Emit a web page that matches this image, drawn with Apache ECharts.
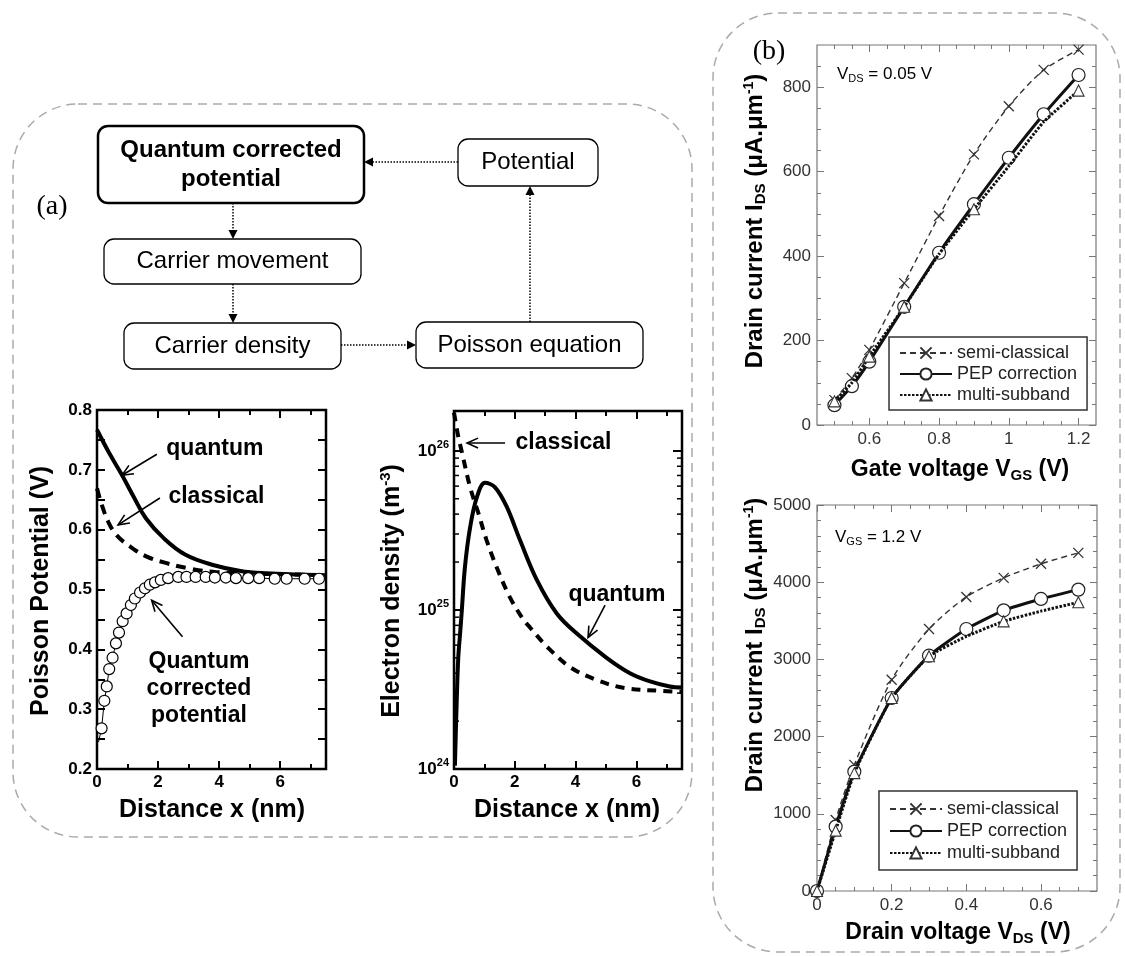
<!DOCTYPE html>
<html>
<head>
<meta charset="utf-8">
<title>Quantum corrected potential</title>
<script src="https://cdn.jsdelivr.net/npm/echarts@6.0.0/dist/echarts.min.js"></script>
<style>
html,body{margin:0;padding:0;background:#fff;}
#chart{width:1125px;height:956px;}
</style>
</head>
<body>
<div id="chart"></div>
<script>
// ================= DATA =================
// (a) Poisson potential (V) vs distance x (nm)
const potQuantumX = [0, 0.4, 0.8, 1.2, 1.6, 2.2, 2.9, 3.8, 4.7, 5.55, 6.6, 7.5];
const potQuantumY = [0.767, 0.728, 0.693, 0.655, 0.619, 0.585, 0.558, 0.541, 0.531, 0.527, 0.525, 0.524];
const potClassicalX = [0, 0.16, 0.37, 0.64, 1.08, 1.63, 2.28, 3.04, 3.91, 5.55, 7.5];
const potClassicalY = [0.669, 0.641, 0.613, 0.591, 0.572, 0.555, 0.544, 0.535, 0.529, 0.526, 0.524];
const potQcpX = [0.15, 0.24, 0.32, 0.40, 0.51, 0.62, 0.72, 0.84, 0.97, 1.11, 1.24, 1.41, 1.57, 1.73, 1.90, 2.09, 2.33, 2.66, 2.93, 3.23, 3.56, 3.86, 4.22, 4.55, 4.95, 5.31, 5.82, 6.21, 6.80, 7.27];
const potQcpY = [0.268, 0.314, 0.338, 0.367, 0.386, 0.410, 0.428, 0.447, 0.460, 0.474, 0.485, 0.495, 0.502, 0.508, 0.512, 0.516, 0.519, 0.521, 0.521, 0.521, 0.521, 0.520, 0.520, 0.519, 0.519, 0.519, 0.518, 0.518, 0.518, 0.518];
const potQcpTail = [0.05, 0.245];

// (a) Electron density (m^-3) vs distance x (nm)
const edQuantumX = [0.03, 0.09, 0.14, 0.2, 0.25, 0.36, 0.53, 0.75, 1.02, 1.35, 1.73, 2.17, 2.72, 3.38, 4.04, 5.02, 5.79, 6.45, 7.1, 7.5];
const edQuantumY = [1.05e24, 2.7e24, 5.0e24, 7.1e24, 9.5e24, 1.86e25, 3.3e25, 5.1e25, 6.3e25, 5.9e25, 4.47e25, 2.75e25, 1.55e25, 9.5e24, 7.1e24, 5.0e24, 4.0e24, 3.55e24, 3.3e24, 3.25e24];
const edClassicalX = [0, 0.14, 0.25, 0.53, 0.8, 1.07, 1.4, 1.84, 2.28, 2.5, 3.05, 3.82, 4.69, 5.57, 6.88, 7.5];
const edClassicalY = [1.74e26, 1.23e26, 1.0e26, 5.9e25, 4.07e25, 2.75e25, 1.86e25, 1.2e25, 8.7e24, 7.76e24, 5.9e24, 4.37e24, 3.63e24, 3.24e24, 3.09e24, 3.05e24];

// (b) top: drain current vs gate voltage, VDS = 0.05 V
const vgs = [0.5, 0.55, 0.6, 0.7, 0.8, 0.9, 1.0, 1.1, 1.2];
const idsSemiVg = [59, 111, 178, 336, 495, 641, 755, 841, 889];
const idsPepVg = [47, 92, 150, 280, 408, 523, 633, 736, 829];
const idsMultiVg = [56, 100, 162, 280, 405, 511, 613, 718, 792];
const multiMarkVg = [1, 0, 1, 1, 0, 1, 0, 0, 1];

// (b) bottom: drain current vs drain voltage, VGS = 1.2 V
const vds = [0, 0.05, 0.1, 0.2, 0.3, 0.4, 0.5, 0.6, 0.7];
const idsSemiVd = [0, 920, 1634, 2737, 3394, 3809, 4056, 4238, 4380];
const idsPepVd = [0, 834, 1547, 2500, 3048, 3394, 3636, 3783, 3904];
const idsMultiVd = [0, 782, 1527, 2500, 3040, 3298, 3493, 3625, 3740];
const multiMarkVd = [1, 1, 1, 1, 1, 0, 1, 0, 1];

// tick labels
const potXLabels = [0, 2, 4, 6];
const potXMinor = [1, 3, 5, 7];
const potYLabels = [0.2, 0.3, 0.4, 0.5, 0.6, 0.7, 0.8];
const potYMinor = [0.25, 0.35, 0.45, 0.55, 0.65, 0.75];
const edXLabels = [0, 2, 4, 6];
const edXMinor = [1, 3, 5, 7];
const edYDecadeMinor = [2, 3, 4, 5, 6, 7, 8, 9];
const edYDecades = [1e24, 1e25];
const vgsLabels = [0.6, 0.8, 1, 1.2];
const idsTopLabels = [0, 200, 400, 600, 800];
const vdsLabels = [0, 0.2, 0.4, 0.6];
const idsBotLabels = [0, 1000, 2000, 3000, 4000, 5000];

const seriesNames = ['semi-classical', 'PEP correction', 'multi-subband'];

// ================= HELPERS =================
const FF = '"Liberation Sans", Arial, Helvetica, sans-serif';
const SERIF = '"Liberation Serif", "Times New Roman", serif';
const zip = (xs, ys) => xs.map((x, i) => [x, ys[i]]);
const zipMark = (xs, ys, m) => xs.map((x, i) => m[i] ? [x, ys[i]] : { value: [x, ys[i]], symbol: 'none' });
function steps(a, b, step, exclude) {
  const out = [];
  for (let i = 0; ; i++) {
    const v = +(a + i * step).toFixed(6);
    if (v > b + 1e-9) break;
    if (!exclude.some(e => Math.abs(e - v) < 1e-9)) out.push(v);
  }
  return out;
}
const edYMinor = [];
edYDecades.forEach(d => edYDecadeMinor.forEach(k => edYMinor.push(k * d)));

const xAxes = [], yAxes = [];
function addAxes(arr, o) {
  const mainIndex = arr.length;
  o.pos.forEach((p, k) => {
    const base = {
      gridIndex: o.grid, type: 'value', min: o.min, max: o.max, position: p,
      axisLine: { show: false, onZero: false }, splitLine: { show: false }, axisPointer: { show: false }
    };
    arr.push(Object.assign({}, base, {
      axisTick: { show: true, inside: true, length: o.majLen, customValues: o.major, lineStyle: { color: o.color, width: o.tw } },
      axisLabel: k === 0 ? Object.assign({ show: true, customValues: o.major }, o.label) : { show: false }
    }));
    arr.push(Object.assign({}, base, {
      axisTick: { show: true, inside: true, length: o.minLen, customValues: o.minor, lineStyle: { color: o.color, width: o.tw } },
      axisLabel: { show: false }
    }));
  });
  return mainIndex;
}

const plain = v => String(+v.toFixed(6));
const labA = { color: '#000', fontSize: 17, fontWeight: 'bold', fontFamily: FF, margin: 5, formatter: plain };
const labB = { color: '#333', fontSize: 17, fontFamily: FF, margin: 6, formatter: plain };

// grid 0: Poisson potential
const potX = addAxes(xAxes, { grid: 0, pos: ['bottom', 'top'], min: 0, max: 7.5, major: potXLabels, minor: potXMinor, majLen: 8, minLen: 5, color: '#000', tw: 2, label: labA });
const potY = addAxes(yAxes, { grid: 0, pos: ['left', 'right'], min: 0.2, max: 0.8, major: potYLabels, minor: potYMinor, majLen: 8, minLen: 8, color: '#000', tw: 2, label: labA });
// grid 1: electron density
const edX = addAxes(xAxes, { grid: 1, pos: ['bottom', 'top'], min: 0, max: 7.5, major: edXLabels, minor: edXMinor, majLen: 8, minLen: 5, color: '#000', tw: 2, label: labA });
const edY = yAxes.length;
['left', 'right'].forEach((p, k) => {
  yAxes.push({
    gridIndex: 1, type: 'log', logBase: 10, min: 1e24, max: 1.78e26, position: p,
    axisLine: { show: false, onZero: false }, splitLine: { show: false }, minorTick: { show: false },
    axisTick: { show: true, inside: true, length: 9, lineStyle: { color: '#000', width: 2 } },
    axisLabel: k === 0 ? {
      show: true, margin: 5,
      formatter: v => { const e = Math.log10(v); const r = Math.round(e); return Math.abs(e - r) > 1e-4 ? '' : '{b|10}{s|' + r + '}'; },
      rich: {
        b: { fontSize: 17, fontWeight: 'bold', fontFamily: FF, color: '#000' },
        s: { fontSize: 11, fontWeight: 'bold', fontFamily: FF, color: '#000', padding: [0, 0, 12, 0] }
      }
    } : { show: false }
  });
});
// grid 2: (b) top
const bTX = addAxes(xAxes, { grid: 2, pos: ['bottom', 'top'], min: 0.45, max: 1.25, major: vgsLabels, minor: steps(0.5, 1.2, 0.05, vgsLabels), majLen: 7, minLen: 4, color: '#777', tw: 1, label: labB });
const bTY = addAxes(yAxes, { grid: 2, pos: ['left', 'right'], min: 0, max: 900, major: idsTopLabels, minor: steps(50, 850, 50, idsTopLabels), majLen: 7, minLen: 4, color: '#777', tw: 1, label: labB });
// grid 3: (b) bottom
const bBX = addAxes(xAxes, { grid: 3, pos: ['bottom', 'top'], min: 0, max: 0.75, major: vdsLabels, minor: steps(0.05, 0.7, 0.05, vdsLabels), majLen: 7, minLen: 4, color: '#777', tw: 1, label: labB });
const bBY = addAxes(yAxes, { grid: 3, pos: ['left', 'right'], min: 0, max: 5000, major: idsBotLabels, minor: steps(200, 4800, 200, idsBotLabels), majLen: 7, minLen: 4, color: '#777', tw: 1, label: labB });

const CROSS = 'path://M0,0L10,10M10,0L0,10';
function bSeries(xi, yi, x, semi, pep, multi, mark) {
  return [
    { name: seriesNames[0], type: 'line', xAxisIndex: xi, yAxisIndex: yi, data: zip(x, semi), smooth: 0.25,
      symbol: CROSS, symbolSize: 10, showAllSymbol: true,
      lineStyle: { color: '#333', width: 1.4, type: [6, 4] },
      itemStyle: { color: '#333', borderColor: '#333', borderWidth: 1.3 }, z: 3 },
    { name: seriesNames[1], type: 'line', xAxisIndex: xi, yAxisIndex: yi, data: zip(x, pep), smooth: 0.15,
      symbol: 'circle', symbolSize: 13, showAllSymbol: true,
      lineStyle: { color: '#111', width: 3 },
      itemStyle: { color: '#fff', borderColor: '#222', borderWidth: 1.2 }, z: 4 },
    { name: seriesNames[2], type: 'line', xAxisIndex: xi, yAxisIndex: yi, data: zipMark(x, multi, mark), smooth: 0.15,
      symbol: 'triangle', symbolSize: 11, showAllSymbol: true,
      lineStyle: { color: '#111', width: 3, type: [2.5, 1.5] },
      itemStyle: { color: '#fff', borderColor: '#333', borderWidth: 1.1 }, z: 5 }
  ];
}

const series = [
  { name: 'pot-classical', type: 'line', xAxisIndex: potX, yAxisIndex: potY, data: zip(potClassicalX, potClassicalY),
    smooth: 0.4, symbol: 'none', lineStyle: { color: '#000', width: 4, type: [10, 7] }, z: 2 },
  { name: 'pot-quantum', type: 'line', xAxisIndex: potX, yAxisIndex: potY, data: zip(potQuantumX, potQuantumY),
    smooth: 0.4, symbol: 'none', lineStyle: { color: '#000', width: 4 }, z: 2 },
  { name: 'pot-qcp', type: 'line', xAxisIndex: potX, yAxisIndex: potY,
    data: [{ value: potQcpTail, symbol: 'none' }].concat(zip(potQcpX, potQcpY)),
    symbol: 'circle', symbolSize: 11, showAllSymbol: true,
    lineStyle: { color: '#000', width: 1 }, itemStyle: { color: '#fff', borderColor: '#000', borderWidth: 1.2 }, z: 3 },
  { name: 'ed-classical', type: 'line', xAxisIndex: edX, yAxisIndex: edY, data: zip(edClassicalX, edClassicalY),
    smooth: 0.35, symbol: 'none', lineStyle: { color: '#000', width: 4, type: [9, 7] }, z: 2 },
  { name: 'ed-quantum', type: 'line', xAxisIndex: edX, yAxisIndex: edY, data: zip(edQuantumX, edQuantumY),
    smooth: 0.35, symbol: 'none', lineStyle: { color: '#000', width: 4 }, z: 2 },
  { name: 'ed-minor-ticks', type: 'custom', xAxisIndex: edX, yAxisIndex: edY, silent: true, clip: false,
    data: edYMinor.map(v => [0, v]),
    renderItem: (params, api) => {
      const v = api.value(1);
      const a = api.coord([0, v]);
      const b = api.coord([7.5, v]);
      return { type: 'group', children: [
        { type: 'line', shape: { x1: a[0], y1: a[1], x2: a[0] + 5, y2: a[1] }, style: { stroke: '#000', lineWidth: 1.5 } },
        { type: 'line', shape: { x1: b[0] - 5, y1: b[1], x2: b[0], y2: b[1] }, style: { stroke: '#000', lineWidth: 1.5 } }
      ] };
    } }
].concat(
  bSeries(bTX, bTY, vgs, idsSemiVg, idsPepVg, idsMultiVg, multiMarkVg),
  bSeries(bBX, bBY, vds, idsSemiVd, idsPepVd, idsMultiVd, multiMarkVd)
);

function legendAt(left, top, gap, pad) {
  return { show: true, orient: 'vertical', left: left, top: top, padding: pad, itemGap: gap,
    itemWidth: 52, itemHeight: 14, borderColor: '#333', borderWidth: 1.5, backgroundColor: '#fff',
    selectedMode: false, data: seriesNames,
    textStyle: { fontSize: 18, fontFamily: FF, color: '#222', lineHeight: 18 } };
}

const option = {
  animation: false,
  backgroundColor: '#fff',
  grid: [
    { left: 97, top: 410, width: 229, height: 359, show: true, borderColor: '#000', borderWidth: 2.5, backgroundColor: 'transparent' },
    { left: 454, top: 411, width: 228, height: 358, show: true, borderColor: '#000', borderWidth: 2.5, backgroundColor: 'transparent' },
    { left: 817, top: 45, width: 279, height: 380, show: true, borderColor: '#777', borderWidth: 1.2, backgroundColor: 'transparent' },
    { left: 817, top: 505, width: 280, height: 386, show: true, borderColor: '#777', borderWidth: 1.2, backgroundColor: 'transparent' }
  ],
  xAxis: xAxes,
  yAxis: yAxes,
  legend: [legendAt(889, 337, 3, [7, 10, 6, 10]), legendAt(879, 791, 4, [9, 10, 8, 10])],
  series: series
};

const chart = echarts.init(document.getElementById('chart'), null, { renderer: 'canvas' });
chart.setOption(option);

// ================= GRAPHICS (layout, flowchart, annotations) =================
const G = [];
// dashed panel frames
G.push({ type: 'rect', shape: { x: 13, y: 104, width: 679, height: 733, r: 65 }, style: { fill: 'none', stroke: '#aaa', lineWidth: 1.5, lineDash: [9, 6] }, z: 1 });
G.push({ type: 'rect', shape: { x: 713, y: 13, width: 407, height: 939, r: 65 }, style: { fill: 'none', stroke: '#aaa', lineWidth: 1.5, lineDash: [9, 6] }, z: 1 });

function txt(x, y, text, font, opts) {
  return Object.assign({ type: 'text', x: x, y: y, z: 50,
    style: Object.assign({ text: text, font: font, fill: '#000', align: 'center', verticalAlign: 'middle' }, (opts && opts.style) || {}) },
    (opts && opts.el) || {});
}
G.push(txt(52, 207, '(a)', '28px ' + SERIF));
G.push(txt(769, 52, '(b)', '28px ' + SERIF));

// flowchart
const flowBoxes = [
  { x: 98, y: 126, w: 266, h: 77, lines: ['Quantum corrected', 'potential'], bold: true },
  { x: 104, y: 239, w: 257, h: 45, lines: ['Carrier movement'] },
  { x: 124, y: 323, w: 217, h: 46, lines: ['Carrier density'] },
  { x: 458, y: 139, w: 140, h: 47, lines: ['Potential'] },
  { x: 416, y: 322, w: 227, h: 46, lines: ['Poisson equation'] }
];
flowBoxes.forEach(b => {
  G.push({ type: 'rect', z: 20, shape: { x: b.x, y: b.y, width: b.w, height: b.h, r: 10 },
    style: { fill: '#fff', stroke: '#000', lineWidth: b.bold ? 2.5 : 1.3 } });
  const lh = 29;
  const cy = b.y + b.h / 2 - (b.lines.length - 1) * lh / 2;
  b.lines.forEach((l, i) => G.push(txt(b.x + b.w / 2, cy + i * lh, l, (b.bold ? 'bold ' : '') + '24px ' + FF)));
});
function arrowFilled(x1, y1, x2, y2) {
  const a = Math.atan2(y2 - y1, x2 - x1), len = 9, hw = 4.5;
  const bx = x2 - len * Math.cos(a), by = y2 - len * Math.sin(a);
  const px = -Math.sin(a) * hw, py = Math.cos(a) * hw;
  return [
    { type: 'line', z: 20, shape: { x1: x1, y1: y1, x2: bx, y2: by }, style: { stroke: '#000', lineWidth: 1.5, lineDash: [1.5, 1.5] } },
    { type: 'polygon', z: 20, shape: { points: [[x2, y2], [bx + px, by + py], [bx - px, by - py]] }, style: { fill: '#000' } }
  ];
}
[[233, 203, 233, 239], [233, 284, 233, 323], [341, 345, 416, 345], [530, 322, 530, 186], [458, 162, 364, 162]]
  .forEach(a => arrowFilled(a[0], a[1], a[2], a[3]).forEach(e => G.push(e)));

// axis titles
function rich(x, y, text, richStyles, rot, align) {
  return { type: 'text', x: x, y: y, rotation: rot || 0, z: 50,
    style: { text: text, rich: richStyles, align: align || 'center', verticalAlign: 'middle', fill: '#000' } };
}
const tA = { fontSize: 25, fontWeight: 'bold', fontFamily: FF, color: '#000' };
const supA = { fontSize: 15, fontWeight: 'bold', fontFamily: FF, color: '#000', padding: [0, 0, 12, 0] };
G.push(rich(41, 591, '{t|Poisson Potential (V)}', { t: tA }, Math.PI / 2));
G.push(rich(212, 810, '{t|Distance x (nm)}', { t: tA }));
G.push(rich(392, 591, '{t|Electron density (m}{s|-3}{t|)}', { t: tA, s: supA }, Math.PI / 2));
G.push(rich(567, 810, '{t|Distance x (nm)}', { t: tA }));

const tB = { fontSize: 24, fontWeight: 'bold', fontFamily: FF, color: '#111' };
const tBx = { fontSize: 23, fontWeight: 'bold', fontFamily: FF, color: '#111' };
const subB = { fontSize: 15, fontWeight: 'bold', fontFamily: FF, color: '#111', padding: [11, 0, 0, 0] };
const supB = { fontSize: 14, fontWeight: 'bold', fontFamily: FF, color: '#111', padding: [0, 0, 12, 0] };
const yTitleB = '{t|Drain current I}{sb|DS}{t| (μA.μm}{sp|-1}{t|)}';
G.push(rich(755, 221, yTitleB, { t: tB, sb: subB, sp: supB }, Math.PI / 2));
G.push(rich(755, 645, yTitleB, { t: tB, sb: subB, sp: supB }, Math.PI / 2));
G.push(rich(960, 470, '{t|Gate voltage V}{sb|GS}{t| (V)}', { t: tBx, sb: subB }));
G.push(rich(958, 933, '{t|Drain voltage V}{sb|DS}{t| (V)}', { t: tBx, sb: subB }));

const nB = { fontSize: 17, fontFamily: FF, color: '#333' };
const sB = { fontSize: 11, fontFamily: FF, color: '#333', padding: [9, 0, 0, 0] };
G.push(rich(837, 74, '{n|V}{s|DS}{n| = 0.05 V}', { n: nB, s: sB }, 0, 'left'));
G.push(rich(835, 537, '{n|V}{s|GS}{n| = 1.2 V}', { n: nB, s: sB }, 0, 'left'));

// annotations in data coordinates (converted through the series' axes)
const potNotes = [
  { text: 'quantum', at: [3.86, 0.736], from: [1.96, 0.726], to: [0.82, 0.691] },
  { text: 'classical', at: [3.91, 0.655], from: [2.06, 0.653], to: [0.69, 0.608] },
  { text: 'Quantum\ncorrected\npotential', at: [3.34, 0.335], from: [2.80, 0.421], to: [1.79, 0.482] }
];
const edNotes = [
  { text: 'classical', at: [3.6, 1.12e26], from: [1.68, 1.12e26], to: [0.43, 1.12e26] },
  { text: 'quantum', at: [5.36, 1.24e25], from: [4.97, 1.07e25], to: [4.41, 6.7e24] }
];
function arrowOpen(p0, p1) {
  const a = Math.atan2(p1[1] - p0[1], p1[0] - p0[0]), len = 12, ang = 0.42;
  const h1 = [p1[0] - len * Math.cos(a - ang), p1[1] - len * Math.sin(a - ang)];
  const h2 = [p1[0] - len * Math.cos(a + ang), p1[1] - len * Math.sin(a + ang)];
  return [
    { type: 'line', z: 40, shape: { x1: p0[0], y1: p0[1], x2: p1[0], y2: p1[1] }, style: { stroke: '#000', lineWidth: 1.6 } },
    { type: 'polyline', z: 40, shape: { points: [h1, p1, h2] }, style: { stroke: '#000', lineWidth: 1.6, fill: 'none' } }
  ];
}
function addNotes(notes, seriesIndex) {
  notes.forEach(n => {
    const c = chart.convertToPixel({ seriesIndex: seriesIndex }, n.at);
    G.push(txt(c[0], c[1], n.text, 'bold 23px ' + FF, { style: { lineHeight: 27 } }));
    const p0 = chart.convertToPixel({ seriesIndex: seriesIndex }, n.from);
    const p1 = chart.convertToPixel({ seriesIndex: seriesIndex }, n.to);
    arrowOpen(p0, p1).forEach(e => G.push(e));
  });
}
addNotes(potNotes, 0);
addNotes(edNotes, 3);

chart.setOption({ graphic: { elements: G } });
</script>
</body>
</html>
